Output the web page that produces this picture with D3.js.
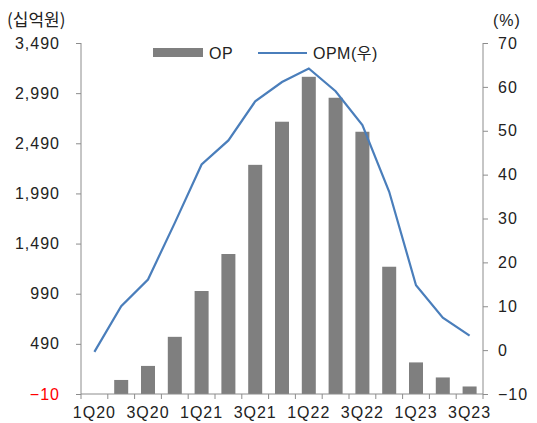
<!DOCTYPE html>
<html>
<head>
<meta charset="utf-8">
<script src="https://cdn.jsdelivr.net/npm/d3@7"></script>
<style>
  body { margin: 0; background: #fff; }
  text { font-family: "Liberation Sans", Arial, "Noto Sans CJK KR", sans-serif; font-size: 16px; fill: #222; }
  .kr { font-family: "Noto Sans CJK KR", sans-serif; }
</style>
</head>
<body>
<div id="chart"></div>
<script>
// quarters, OP (십억원), OPM (%)
var quarters = ["1Q20", "2Q20", "3Q20", "4Q20", "1Q21", "2Q21", "3Q21", "4Q21",
                "1Q22", "2Q22", "3Q22", "4Q22", "1Q23", "2Q23", "3Q23"];
var opValues = [-10, 130, 270, 560, 1017, 1386, 2275, 2705, 3153, 2944, 2605, 1259, 305, 155, 65];
var opmValues = [-0.4, 10.0, 16.1, 29.0, 42.3, 47.8, 56.7, 61.1, 64.2, 59.0, 51.3, 36.1, 14.8, 7.4, 3.3];
var leftTicks = [-10, 490, 990, 1490, 1990, 2490, 2990, 3490];
var rightTicks = [-10, 0, 10, 20, 30, 40, 50, 60, 70];

var svgWidth = 537;
var svgHeight = 423;

var plot = { left: 81, right: 483, top: 43, bottom: 394 };

var svg = d3.select("#chart")
  .append("svg")
  .attr("width", svgWidth)
  .attr("height", svgHeight);

var xOuter = d3.scaleBand()
  .domain(quarters)
  .range([plot.left, plot.right]);

var yLeft = d3.scaleLinear().domain([-10, 3490]).range([plot.bottom, plot.top]);
var yRight = d3.scaleLinear().domain([-10, 70]).range([plot.bottom, plot.top]);

var axisColor = "#8c8c8c";

// bars
svg.append("g").selectAll("rect")
  .data(opValues)
  .enter()
  .append("rect")
  .attr("x", (d, i) => xOuter(quarters[i]) + (xOuter.bandwidth() - 14) / 2)
  .attr("width", 14)
  .attr("y", d => yLeft(d))
  .attr("height", d => yLeft(-10) - yLeft(d))
  .attr("fill", "#7f7f7f");

// line
var line = d3.line()
  .x((d, i) => xOuter(quarters[i]) + xOuter.bandwidth() / 2)
  .y(d => yRight(d));

svg.append("path")
  .datum(opmValues)
  .attr("d", line)
  .attr("fill", "none")
  .attr("stroke", "#4a7ebb")
  .attr("stroke-width", 2.2);

// left axis
var leftAxis = d3.axisLeft(yLeft)
  .tickValues(leftTicks)
  .tickSize(5)
  .tickPadding(16)
  .tickFormat(d3.format(","));

var gl = svg.append("g")
  .attr("transform", `translate(${plot.left},0)`)
  .call(leftAxis);
gl.select(".domain").attr("stroke", axisColor).attr("d", `M0,${plot.top}V${plot.bottom}`);
gl.selectAll(".tick line").attr("stroke", axisColor);
gl.selectAll(".tick text")
  .style("font-size", "16px")
  .style("letter-spacing", "1px")
  .style("fill", d => d < 0 ? "#ff0000" : "#222")
  .text(d => d < 0 ? "\u2212" + Math.abs(d) : d3.format(",")(d));

// right axis
var rightAxis = d3.axisRight(yRight)
  .tickValues(rightTicks)
  .tickSize(5)
  .tickPadding(10)
  .tickFormat(d => d < 0 ? "\u2212" + Math.abs(d) : d);

var gr = svg.append("g")
  .attr("transform", `translate(${plot.right},0)`)
  .call(rightAxis);
gr.select(".domain").attr("stroke", axisColor).attr("d", `M0,${plot.top}V${plot.bottom}`);
gr.selectAll(".tick line").attr("stroke", axisColor);
gr.selectAll(".tick text").style("font-size", "16px").style("letter-spacing", "1px");

// bottom axis: ticks at band edges, labels every other band
var gb = svg.append("g");
gb.append("line")
  .attr("x1", plot.left).attr("x2", plot.right)
  .attr("y1", plot.bottom).attr("y2", plot.bottom)
  .attr("stroke", axisColor);
var edges = quarters.map(q => xOuter(q)).concat([plot.right]);
gb.selectAll(".edge")
  .data(edges)
  .enter()
  .append("line")
  .attr("x1", d => d).attr("x2", d => d)
  .attr("y1", plot.bottom).attr("y2", plot.bottom + 5)
  .attr("stroke", axisColor);
gb.selectAll(".lbl")
  .data(quarters.filter((q, i) => i % 2 === 0))
  .enter()
  .append("text")
  .attr("x", d => xOuter(d) + xOuter.bandwidth() / 2)
  .attr("y", 418)
  .attr("text-anchor", "middle")
  .style("letter-spacing", "1px")
  .text(d => d);

// unit labels
svg.append("text").attr("class", "kr").attr("x", 7).attr("y", 26).style("font-size", "17px").text("(십억원)");
svg.append("text").attr("x", 493).attr("y", 26).style("font-size", "16px").style("letter-spacing", "1px").text("(%)");

// legend
svg.append("rect").attr("x", 153).attr("y", 48).attr("width", 50).attr("height", 9).attr("fill", "#7f7f7f");
svg.append("text").attr("x", 209).attr("y", 59).style("letter-spacing", "0.5px").text("OP");
svg.append("line").attr("x1", 258).attr("x2", 307).attr("y1", 53).attr("y2", 53)
  .attr("stroke", "#4a7ebb").attr("stroke-width", 2.2);
var lg = svg.append("text").attr("x", 313).attr("y", 59).style("letter-spacing", "0.5px");
lg.append("tspan").text("OPM(");
lg.append("tspan").attr("class", "kr").style("font-size", "16px").text("우");
lg.append("tspan").text(")");
</script>
</body>
</html>
